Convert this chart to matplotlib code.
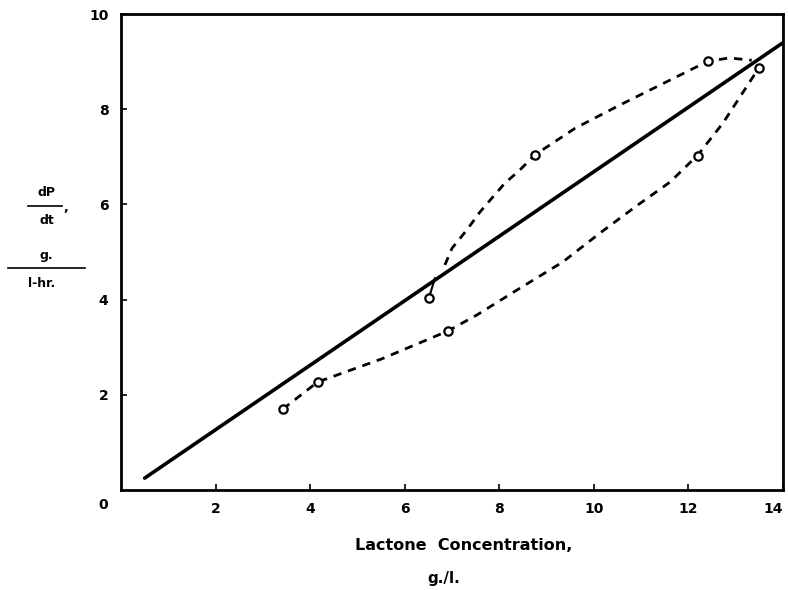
import matplotlib.pyplot as plt
from matplotlib.lines import Line2D

# straight fitted line
fit_x = [0.5, 14.0]
fit_y = [0.25, 9.4]

# upper dashed curve (through measured points)
upper_x = [6.85, 7.0, 7.31, 7.59, 7.84, 8.12, 8.43, 8.75, 9.6, 10.55, 11.4, 12.41, 12.87, 13.34]
upper_y = [4.73, 5.08, 5.46, 5.84, 6.13, 6.45, 6.72, 7.04, 7.6, 8.09, 8.51, 9.01, 9.08, 9.03]

# lower dashed curve
lower_x = [3.42, 4.16, 5.5, 6.91, 7.53, 8.37, 9.34, 10.13, 10.93, 11.61, 12.2, 12.73, 13.49]
lower_y = [1.70, 2.27, 2.75, 3.34, 3.68, 4.20, 4.79, 5.40, 5.99, 6.47, 7.04, 7.71, 8.87]

# measured points (open circles)
pts_x = [3.42, 4.16, 6.91, 12.2, 13.49, 6.51, 8.75, 12.41]
pts_y = [1.70, 2.27, 3.34, 7.02, 8.87, 4.03, 7.04, 9.01]

# short hook joining the point at 6.5 to the line
hook_x = [6.51, 6.64]
hook_y = [4.03, 4.45]

fig = plt.figure(figsize=(7.88, 5.90), dpi=100)
ax = fig.add_axes([0.1536, 0.1695, 0.84, 0.8065])

ax.plot(fit_x, fit_y, color='black', lw=2.6, solid_capstyle='round')
ax.plot(upper_x, upper_y, color='black', lw=2.0, linestyle=(0, (3, 2.5)))
ax.plot(lower_x, lower_y, color='black', lw=2.0, linestyle=(0, (3, 2.5)))
ax.plot(hook_x, hook_y, color='black', lw=1.5)
ax.plot(pts_x, pts_y, 'o', ms=6, mfc='white', mec='black', mew=1.6)

ax.set_xlim(0, 14)
ax.set_ylim(0, 10)
ax.set_xticks([2, 4, 6, 8, 10, 12, 14])
ax.set_yticks([2, 4, 6, 8, 10])
ax.tick_params(direction='in', length=4, width=1.2, labelsize=10, pad=9)
for lab in ax.get_xticklabels() + ax.get_yticklabels():
    lab.set_fontweight('bold')
ax.get_xticklabels()[-1].set_ha('right')
for s in ax.spines.values():
    s.set_linewidth(2)

ax.text(-0.027, -0.032, '0', transform=ax.transAxes, ha='center', va='center',
        fontsize=10, fontweight='bold')

# x axis label
fig.text(0.588, 0.076, 'Lactone  Concentration,', ha='center', va='center',
         fontsize=11.5, fontweight='bold')
fig.text(0.563, 0.019, 'g./l.', ha='center', va='center', fontsize=11, fontweight='bold')

# y axis label as two fractions
fig.text(0.059, 0.673, 'dP', ha='center', va='center', fontsize=9, fontweight='bold')
fig.text(0.059, 0.627, 'dt', ha='center', va='center', fontsize=9, fontweight='bold')
fig.text(0.083, 0.648, ',', ha='center', va='center', fontsize=9, fontweight='bold')
fig.add_artist(Line2D([0.036, 0.079], [0.651, 0.651], color='black', lw=1.2,
                      transform=fig.transFigure))
fig.text(0.059, 0.567, 'g.', ha='center', va='center', fontsize=9, fontweight='bold')
fig.text(0.053, 0.519, 'l-hr.', ha='center', va='center', fontsize=9, fontweight='bold')
fig.add_artist(Line2D([0.010, 0.108], [0.546, 0.546], color='black', lw=1.2,
                      transform=fig.transFigure))

fig.savefig('out.png', dpi=100)
